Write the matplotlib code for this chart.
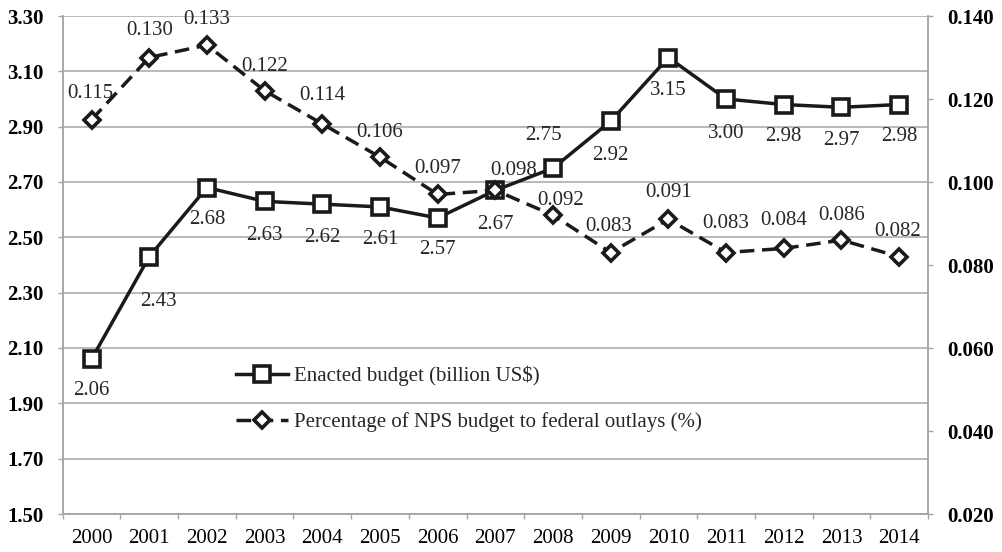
import matplotlib
matplotlib.use("Agg")
import matplotlib.pyplot as plt
from matplotlib.ticker import FixedLocator, NullFormatter

years = ["2000", "2001", "2002", "2003", "2004", "2005", "2006", "2007",
         "2008", "2009", "2010", "2011", "2012", "2013", "2014"]
budget = [2.06, 2.43, 2.68, 2.63, 2.62, 2.61, 2.57, 2.67, 2.75, 2.92,
          3.15, 3.00, 2.98, 2.97, 2.98]
percentage = [0.115, 0.130, 0.133, 0.122, 0.114, 0.106, 0.097, 0.098,
              0.092, 0.083, 0.091, 0.083, 0.084, 0.086, 0.082]
left_ticks = [1.50, 1.70, 1.90, 2.10, 2.30, 2.50, 2.70, 2.90, 3.10, 3.30]
right_ticks = [0.020, 0.040, 0.060, 0.080, 0.100, 0.120, 0.140]
budget_label = "Enacted budget (billion US$)"
pct_label = "Percentage of NPS budget to federal outlays (%)"

# label offsets in pixels (dx, dy; +dy = downward)
budget_off = [(0, 29), (9, 43), (0, 30), (0, 32), (0, 31), (0, 31), (0, 30), (0, 32),
              (-10, -35), (0, 32), (0, 31), (0, 32), (0, 30), (0, 31), (0, 30)]
pct_off = [(-1, -28), (0, -29), (0, -28), (0, -26), (0, -30), (0, -27), (0, -28), (18, -22),
           (8, -17), (-2, -28), (0, -29), (0, -31), (0, -30), (0, -27), (-2, -27)]

plt.rcParams['font.family'] = ['Liberation Serif', 'DejaVu Serif']
FS = 15
GRID = '#a6a6a6'
TXT = '#262626'

fig = plt.figure(figsize=(10.02, 5.52), dpi=100)
ax = fig.add_axes([62.7 / 1002, 1 - 514 / 552, (928 - 62.7) / 1002, (514 - 16) / 552])
ax2 = ax.twinx()

x = list(range(len(years)))

ax.set_xlim(-0.5, len(years) - 0.5)
ax.set_ylim(1.50, 3.30)
ax2.set_ylim(0.020, 0.140)

ax.set_yticks(left_ticks)
ax.set_yticklabels([f"{v:.2f}" for v in left_ticks], fontsize=FS, fontweight='bold')
ax2.set_yticks(right_ticks)
ax2.set_yticklabels([f"{v:.3f}" for v in right_ticks], fontsize=FS, fontweight='bold')

ax.set_xticks(x)
ax.set_xticklabels(years, fontsize=FS)
ax.xaxis.set_minor_locator(FixedLocator([i - 0.5 for i in range(len(years) + 1)]))
ax.xaxis.set_minor_formatter(NullFormatter())
ax.tick_params(axis='x', which='major', length=0, pad=11)
ax.tick_params(axis='x', which='minor', length=3.6, width=1, color=GRID)
ax.tick_params(axis='y', length=3.6, width=1, color=GRID, pad=10)
ax2.tick_params(axis='y', length=3.6, width=1, color=GRID, pad=10)

ax.yaxis.grid(True, color=GRID, linewidth=1.1)
ax.set_axisbelow(True)

for a in (ax, ax2):
    a.spines['top'].set_visible(False)
    for s in ('left', 'right', 'bottom'):
        a.spines[s].set_color(GRID)
        a.spines[s].set_linewidth(1.1)

l1, = ax.plot(x, budget, color='#1a1a1a', linewidth=2.5, marker='s', markersize=11,
              markerfacecolor='white', markeredgecolor='#1a1a1a', markeredgewidth=2.6,
              label=budget_label, zorder=3)
l2, = ax2.plot(x, percentage, color='#1a1a1a', linewidth=2.5, linestyle=(0, (4.2, 2.2)),
               marker='D', markersize=8.5, markerfacecolor='white',
               markeredgecolor='#1a1a1a', markeredgewidth=2.6,
               label=pct_label, zorder=3)

for xi, v, (dx, dy) in zip(x, budget, budget_off):
    ax.annotate(f"{v:.2f}", (xi, v), xytext=(dx, -dy - 2), textcoords='offset pixels',
                ha='center', va='center', fontsize=FS, color=TXT, zorder=5)
for xi, v, (dx, dy) in zip(x, percentage, pct_off):
    ax2.annotate(f"{v:.3f}", (xi, v), xytext=(dx, -dy - 2), textcoords='offset pixels',
                 ha='center', va='center', fontsize=FS, color=TXT, zorder=5)

leg = ax2.legend(handles=[l1, l2], loc='upper left',
                 bbox_to_anchor=(236 / 1002, 1 - 366 / 552), bbox_transform=fig.transFigure,
                 frameon=False, fontsize=FS, handlelength=2.5, handletextpad=0.3,
                 labelspacing=1.25, borderaxespad=0, borderpad=0)
for t in leg.get_texts():
    t.set_color(TXT)

fig.savefig("out.png", dpi=100)
